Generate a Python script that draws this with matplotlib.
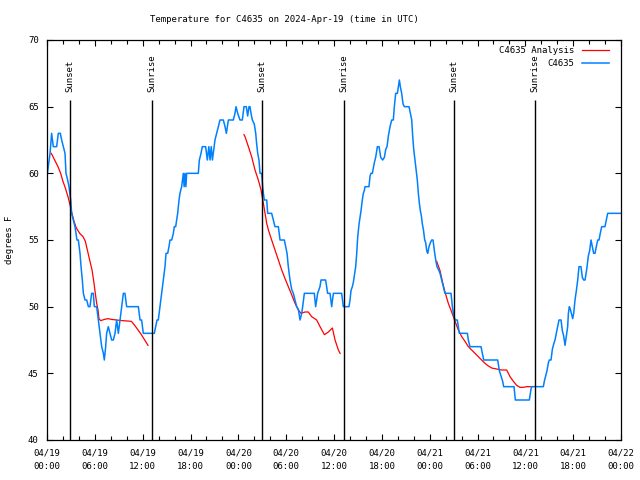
import pandas as pd
import matplotlib.pyplot as plt
import matplotlib.dates as mdates

BASE = pd.Timestamp("2024-04-19 00:00")

# observed temperature (hours since 04/19 00:00 UTC, degrees F)
obs_hours = [
    0.05, 0.38, 0.58, 0.79, 1.21, 1.42, 1.67, 1.84, 2.05, 2.26, 2.38, 2.59, 2.76,
    2.97, 3.09, 3.30, 3.51, 3.64, 3.76, 3.93, 4.14, 4.27, 4.43, 4.56, 4.77, 4.98,
    5.19, 5.39, 5.60, 5.81, 5.94, 6.23, 6.44, 6.65, 6.86, 7.07, 7.19, 7.36, 7.48,
    7.69, 7.90, 8.11, 8.32, 8.53, 8.74, 8.95, 9.16, 9.37, 9.58, 9.78, 9.99, 10.2,
    11.46, 11.67, 11.87, 12.08, 12.29, 13.46, 13.63, 13.8, 13.96, 14.17, 14.38,
    14.59, 14.8, 14.93, 15.14, 15.3, 15.43, 15.64, 15.85, 15.97, 16.14, 16.27,
    16.39, 16.56, 16.68, 16.89, 17.1, 17.2, 17.31, 17.42, 17.52, 17.73, 18.98,
    19.11, 19.32, 19.48, 19.9, 20.11, 20.3, 20.45, 20.6, 20.75, 21.07, 21.28,
    21.49, 21.7, 22.12, 22.33, 22.5, 22.75, 23.37, 23.58, 23.71, 23.92, 24.21,
    24.5, 24.71, 25.0, 25.17, 25.34, 25.46, 25.59, 25.76, 26.0, 26.18, 26.3,
    26.43, 26.59, 26.72, 26.93, 27.05, 27.14, 27.26, 27.56, 27.68, 28.18, 28.39,
    28.6, 29.02, 29.23, 29.77, 29.94, 30.11, 30.27, 30.48, 30.69, 30.9, 31.11,
    31.32, 31.53, 31.74, 31.95, 32.07, 32.28, 33.53, 33.7, 33.95, 34.24, 34.37,
    34.95, 35.2, 35.5, 35.71, 35.92, 36.13, 36.96, 37.17, 37.88, 38.01, 38.13,
    38.3, 38.42, 38.55, 38.72, 38.85, 38.97, 39.14, 39.26, 39.39, 39.55, 39.68,
    39.8, 39.89, 40.39, 40.52, 40.64, 40.81, 41.06, 41.23, 41.44, 41.65, 41.86,
    42.11, 42.32, 42.49, 42.65, 42.82, 43.03, 43.24, 43.44, 43.57, 43.65, 43.74,
    43.95, 44.07, 44.2, 44.32, 44.49, 44.66, 44.83, 45.41, 45.58, 45.75, 45.87,
    46.0, 46.16, 46.33, 46.45, 46.58, 46.7, 46.83, 46.96, 47.08, 47.21, 47.38,
    47.5, 47.63, 47.75, 47.92, 48.09, 48.26, 48.42, 48.59, 48.76, 48.92, 49.09,
    49.3, 49.51, 49.72, 49.92, 50.68, 50.85, 50.97, 51.1, 51.18, 51.47, 51.6,
    51.72, 52.73, 52.85, 53.06, 54.44, 54.61, 54.78, 56.53, 56.74, 56.95, 57.16,
    57.28, 58.58, 58.75, 60.5, 60.71, 60.8, 62.26, 62.38, 62.55, 62.72, 62.89,
    63.01, 63.22, 63.39, 63.56, 63.72, 63.89, 64.06, 64.22, 64.48, 64.64, 64.81,
    64.98, 65.15, 65.31, 65.4, 65.52, 65.65, 65.81, 65.94, 66.07, 66.23, 66.4,
    66.57, 66.73, 66.98, 67.15, 67.32, 67.49, 67.7, 67.9, 68.07, 68.24, 68.4,
    68.57, 68.74, 68.9, 69.08, 69.24, 69.4, 69.58, 69.99, 70.16, 70.33, 72.0,
]
obs_temps = [
    60, 61.5, 63, 62, 62, 63, 63, 62.5, 62, 61.5, 60, 59.5, 59,
    58, 57, 56.5, 56, 55.5, 55, 55, 54, 53, 52, 51, 50.5, 50.5,
    50, 50, 51, 51, 50, 50, 49, 48, 47, 46.5, 46, 47, 48,
    48.5, 48, 47.5, 47.5, 48, 49, 48, 49, 50, 51, 51, 50, 50,
    50, 49, 49, 48, 48, 48, 48.5, 49, 49, 50, 51,
    52, 53, 54, 54, 54.5, 55, 55, 55.5, 56, 56, 56.5,
    57, 58, 58.5, 59, 60, 59, 60, 59, 60, 60, 60,
    61, 61.5, 62, 62, 61, 62, 61, 62, 61, 62.5, 63,
    63.5, 64, 64, 63.5, 63, 64, 64, 64.5, 65, 64.5, 64,
    64, 65, 65, 64.3, 65, 65, 64.5, 64, 63.7, 63, 62.2,
    61.5, 61, 60, 60, 59, 58.5, 58, 58, 57, 57, 56.5,
    56, 56, 55, 55, 54.5, 54, 53, 52, 51.3, 51, 50.5,
    50, 49.8, 49, 49.5, 50, 51, 51, 50, 51, 51.5, 52,
    52, 51, 51, 50, 51, 51, 51, 50, 50, 50.5, 51.2,
    51.5, 51.8, 52.3, 53, 54, 55.2, 56.2, 56.7, 57.2, 58, 58.5,
    58.7, 59, 59, 59.8, 60, 60, 60.8, 61.2, 62, 62, 61.2,
    61, 61.2, 61.8, 62, 62.8, 63.5, 64, 64, 65, 65.5, 66,
    66, 66.5, 67, 66.5, 66, 65.2, 65, 65, 64.5, 64, 62.8,
    61.8, 61, 60.2, 59.5, 58.5, 57.8, 57.2, 56.8, 56.2, 55.8, 55,
    54.8, 54.2, 54, 54.5, 54.8, 55, 55, 54.2, 53.5, 53, 52.8,
    52.5, 52, 51.5, 51, 51, 50, 49.5, 49.2, 49, 49, 48.5,
    48, 48, 47.5, 47, 47, 46.5, 46, 46, 45.2, 44.8, 44.4,
    44, 44, 43, 43, 43.8, 44, 44, 44.4, 44.8, 45.2, 45.8,
    46, 46, 46.8, 47.2, 47.5, 48, 48.5, 49, 49, 48.2, 47.8,
    47.1, 47.8, 48.5, 49.5, 50, 49.8, 49.4, 49.1, 49.5, 50.5, 51.2,
    52, 53, 53, 52.2, 52, 52, 52.8, 53.8, 54.2, 55, 54.5,
    54, 54, 54.5, 55, 55, 55.5, 56, 56, 56.5, 57, 57,
]

# analysis, one piece per night
ana1_hours = [0.54, 0.96, 1.38, 1.71, 2.0, 2.3, 2.63, 2.84, 3.13, 3.39, 3.68, 4.1,
              4.52, 4.81, 5.06, 5.35, 5.65, 5.9, 6.06, 6.23, 6.4, 6.52, 6.73, 7.23,
              7.65, 8.07, 8.7, 9.53, 10.58, 11.0, 11.42, 11.84, 12.25, 12.67]
ana1_temps = [61.5, 61.0, 60.5, 60.0, 59.4, 58.9, 58.25, 57.75, 57.0, 56.4, 55.9, 55.5,
              55.25, 54.9, 54.25, 53.5, 52.75, 51.75, 51.0, 50.25, 49.75, 49.1, 48.95, 49.05,
              49.1, 49.05, 49.0, 48.95, 48.9, 48.6, 48.25, 47.9, 47.5, 47.1]
ana2_hours = [24.71, 24.84, 25.26, 25.67, 26.09, 26.51, 26.85, 27.14, 27.35, 27.56, 27.77,
              28.18, 28.6, 29.02, 29.44, 29.86, 30.27, 30.69, 31.11, 31.53, 31.86, 32.37,
              32.78, 33.2, 33.83, 34.25, 34.8, 35.29, 35.8, 36.13, 36.55, 36.76]
ana2_temps = [62.9, 62.75, 62.0, 61.25, 60.25, 59.5, 58.75, 57.75, 57.0, 56.25, 55.75,
              55.0, 54.25, 53.5, 52.75, 52.1, 51.5, 50.9, 50.25, 49.75, 49.5, 49.6,
              49.6, 49.25, 49.0, 48.5, 47.9, 48.1, 48.4, 47.5, 46.75, 46.5]
ana3_hours = [48.88, 49.3, 49.63, 49.92, 50.34, 50.76, 51.18, 51.6, 52.02, 52.43, 52.85,
              53.27, 53.69, 54.1, 54.52, 54.94, 55.36, 55.78, 56.2, 56.61, 57.03, 57.66,
              58.08, 58.5, 58.91, 59.33, 59.75, 60.17, 60.8]
ana3_temps = [53.4, 52.7, 51.8, 51.1, 50.25, 49.6, 48.9, 48.25, 47.75, 47.4, 47.0,
              46.75, 46.5, 46.25, 46.0, 45.75, 45.55, 45.4, 45.35, 45.3, 45.25, 45.25,
              44.75, 44.4, 44.1, 43.95, 43.95, 44.0, 44.0]

sun_hours = [2.92, 13.21, 27.0, 37.29, 51.09, 61.25]
sun_labels = ["Sunset", "Sunrise", "Sunset", "Sunrise", "Sunset", "Sunrise"]


def to_time(hours):
    return BASE + pd.to_timedelta(hours, unit="h")


plt.rcParams["font.family"] = ["DejaVu Sans Mono"]
plt.rcParams["font.size"] = 6.5

fig = plt.figure(figsize=(6.4, 4.8), dpi=100)
ax = fig.add_axes([47 / 640, 40 / 480, 574 / 640, 400 / 480])

first = True
for h, t in [(ana1_hours, ana1_temps), (ana2_hours, ana2_temps), (ana3_hours, ana3_temps)]:
    ax.plot(to_time(h), t, color="#ff0000", lw=0.9,
            label="C4635 Analysis" if first else None)
    first = False
ax.plot(to_time(obs_hours), obs_temps, color="#0080ff", lw=1.1, label="C4635")

for h, lab in zip(sun_hours, sun_labels):
    x = to_time([h])[0]
    ax.vlines(x, 40, 65.5, color="black", lw=1.0)
    ax.text(x, 66.1, lab, rotation=90, ha="center", va="bottom")

ax.set_xlim(BASE, BASE + pd.Timedelta(hours=72))
ax.set_ylim(40, 70)
ax.set_yticks(range(40, 71, 5))
ax.xaxis.set_major_locator(mdates.HourLocator(byhour=[0, 6, 12, 18]))
ax.xaxis.set_minor_locator(mdates.HourLocator(interval=2))
ax.xaxis.set_major_formatter(mdates.DateFormatter("%m/%d\n%H:%M"))
ax.tick_params(which="both", direction="in", top=True, right=True, width=0.8)
ax.tick_params(which="major", length=4.5, pad=6)
ax.tick_params(which="minor", length=2.8)
for lab in ax.get_xticklabels():
    lab.set_linespacing(1.6)
for s in ax.spines.values():
    s.set_linewidth(0.9)

ax.set_ylabel("degrees F", labelpad=10)
fig.text(150 / 640, 1 - 19 / 480, "Temperature for C4635 on 2024-Apr-19 (time in UTC)",
         ha="left", va="center")

ax.legend(loc="upper right", bbox_to_anchor=(1 - 6 / 574, 1), frameon=False,
          markerfirst=False, handlelength=3.0, labelspacing=0.45,
          borderaxespad=0.3, handletextpad=0.8)

plt.savefig("out.png", dpi=100)
